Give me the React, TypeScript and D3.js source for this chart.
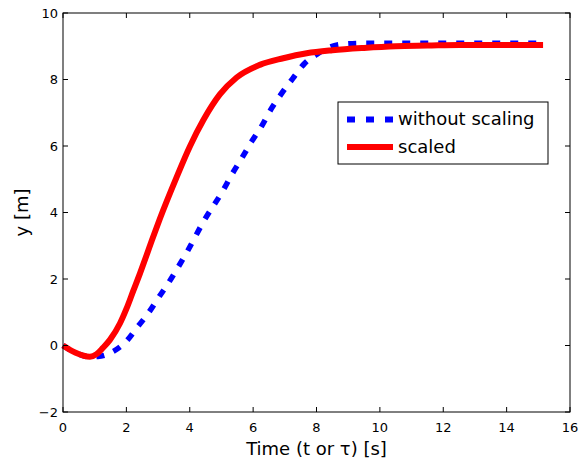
import React, { useEffect, useRef } from "react";
import * as d3 from "d3";

// time samples (s) and responses (m)
const tScaled = [0, 0.4, 0.85, 1.06, 1.25, 1.48, 1.8, 2.0, 2.22, 2.43, 2.64, 2.8, 3.06, 3.58, 4.0, 4.43, 4.95, 5.48, 6.21, 6.95, 7.69, 8.5, 9.5, 10.5, 11.5, 12.5, 13.5, 15.15];
const yScaled = [0, -0.22, -0.34, -0.26, -0.08, 0.17, 0.67, 1.1, 1.65, 2.17, 2.72, 3.15, 3.82, 5.05, 5.98, 6.78, 7.55, 8.06, 8.44, 8.64, 8.79, 8.88, 8.95, 9.0, 9.02, 9.04, 9.04, 9.04];

const tRaw = [0, 0.4, 0.85, 1.1, 1.48, 2.01, 2.32, 2.69, 3.0, 3.32, 3.61, 3.9, 4.43, 5.06, 5.32, 5.64, 5.95, 6.27, 6.58, 6.9, 7.26, 7.63, 8.0, 8.4, 8.8, 9.5, 12, 15.15];
const yRaw = [0, -0.22, -0.34, -0.33, -0.23, 0.14, 0.52, 0.97, 1.42, 1.87, 2.32, 2.79, 3.72, 4.68, 5.13, 5.63, 6.13, 6.6, 7.13, 7.58, 8.04, 8.49, 8.75, 8.97, 9.06, 9.09, 9.09, 9.09];

const xTicks = [0, 2, 4, 6, 8, 10, 12, 14, 16];
const yTicks = [-2, 0, 2, 4, 6, 8, 10];
const legendLabels = ["without scaling", "scaled"];

const App = () => {
  const ref = useRef<SVGSVGElement>(null);

  useEffect(() => {
    const svg = d3.select(ref.current);
    svg.selectAll("*").remove();

    const left = 63, right = 570, top = 13, bottom = 412;
    const font = "DejaVu Sans, sans-serif";

    const x = d3.scaleLinear().domain([0, 16]).range([left, right]);
    const y = d3.scaleLinear().domain([-2, 10]).range([bottom, top]);

    svg.append("rect").attr("width", 587).attr("height", 464).attr("fill", "white");

    const line = d3
      .line<[number, number]>()
      .x((d) => x(d[0]))
      .y((d) => y(d[1]))
      .curve(d3.curveMonotoneX);

    const rawPts = tRaw.map((t, i) => [t, yRaw[i]] as [number, number]);
    const scaledPts = tScaled.map((t, i) => [t, yScaled[i]] as [number, number]);

    svg.append("path")
      .attr("d", line(rawPts))
      .attr("fill", "none")
      .attr("stroke", "#0000ff")
      .attr("stroke-width", 5.5)
      .attr("stroke-dasharray", "8,10");

    svg.append("path")
      .attr("d", line(scaledPts))
      .attr("fill", "none")
      .attr("stroke", "#ff0000")
      .attr("stroke-width", 6)
      .attr("stroke-linejoin", "round");

    // axes box
    svg.append("rect")
      .attr("x", left).attr("y", top)
      .attr("width", right - left).attr("height", bottom - top)
      .attr("fill", "none").attr("stroke", "black").attr("stroke-width", 1);

    const tl = 5;
    xTicks.forEach((v) => {
      svg.append("line").attr("x1", x(v)).attr("x2", x(v)).attr("y1", bottom).attr("y2", bottom - tl).attr("stroke", "black");
      svg.append("line").attr("x1", x(v)).attr("x2", x(v)).attr("y1", top).attr("y2", top + tl).attr("stroke", "black");
      svg.append("text")
        .attr("x", x(v)).attr("y", bottom + 20)
        .attr("text-anchor", "middle")
        .attr("font-family", font).attr("font-size", 13)
        .text(String(v));
    });

    yTicks.forEach((v) => {
      svg.append("line").attr("x1", left).attr("x2", left + tl).attr("y1", y(v)).attr("y2", y(v)).attr("stroke", "black");
      svg.append("line").attr("x1", right).attr("x2", right - tl).attr("y1", y(v)).attr("y2", y(v)).attr("stroke", "black");
      svg.append("text")
        .attr("x", left - 5).attr("y", y(v)).attr("dy", "0.36em")
        .attr("text-anchor", "end")
        .attr("font-family", font).attr("font-size", 13)
        .text(v < 0 ? "\u2212" + Math.abs(v) : String(v));
    });

    svg.append("text")
      .attr("x", (left + right) / 2).attr("y", 455)
      .attr("text-anchor", "middle")
      .attr("font-family", font).attr("font-size", 18)
      .text("Time (t or \u03c4) [s]");

    svg.append("text")
      .attr("transform", `translate(28,${(top + bottom) / 2}) rotate(-90)`)
      .attr("text-anchor", "middle")
      .attr("font-family", font).attr("font-size", 18)
      .text("y [m]");

    // legend
    const lg = svg.append("g");
    lg.append("rect")
      .attr("x", 338).attr("y", 102).attr("width", 210).attr("height", 62)
      .attr("fill", "white").attr("stroke", "black").attr("stroke-width", 1);
    const rows = [
      { color: "#0000ff", dash: "8,11", w: 6, yy: 119.5 },
      { color: "#ff0000", dash: null, w: 6, yy: 147 },
    ];
    rows.forEach((r, i) => {
      lg.append("line")
        .attr("x1", 347).attr("x2", 393).attr("y1", r.yy).attr("y2", r.yy)
        .attr("stroke", r.color).attr("stroke-width", r.w)
        .attr("stroke-dasharray", r.dash);
      lg.append("text")
        .attr("x", 398).attr("y", r.yy).attr("dy", "0.33em")
        .attr("font-family", font).attr("font-size", 18)
        .text(legendLabels[i]);
    });
  }, []);

  return (
    <svg ref={ref} width={587} height={464} style={{ position: "absolute", left: 0, top: 0 }} />
  );
};

export default App;
